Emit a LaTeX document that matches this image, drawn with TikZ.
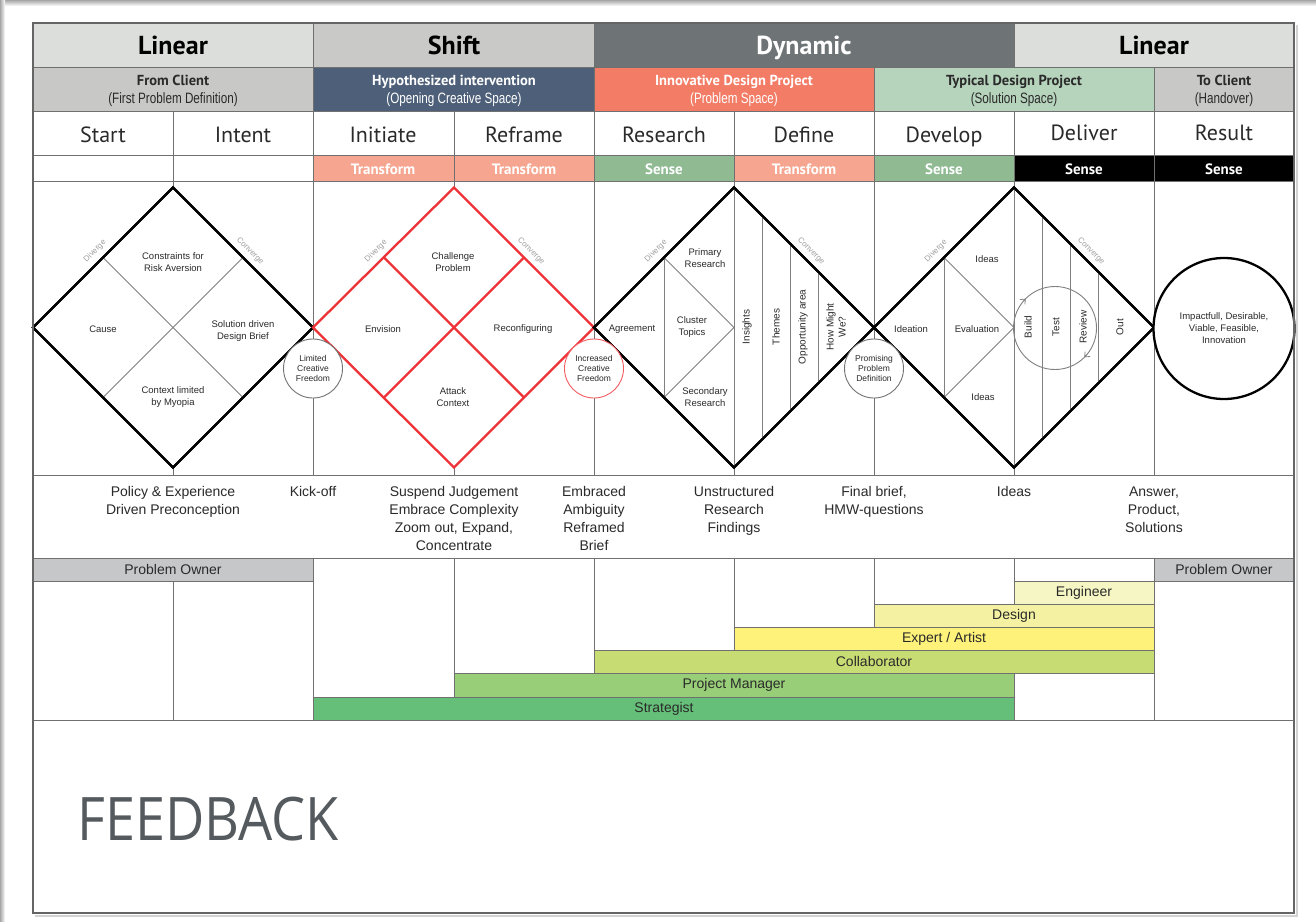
\documentclass[tikz,border=0pt]{standalone}
\usepackage{fontspec}
\setmainfont{Liberation Sans}
\newfontfamily\myr{PT Sans}
\newfontfamily\narrowf[FakeStretch=0.78]{Liberation Sans}
\newfontfamily\feedf[FakeStretch=0.9]{Open Sans}
\usetikzlibrary{arrows.meta}
\definecolor{linL}{HTML}{DCDEDC}
\definecolor{shiftC}{HTML}{C9CAC7}
\definecolor{dynC}{HTML}{6E7375}
\definecolor{clientC}{HTML}{C8C9C7}
\definecolor{hypC}{HTML}{4E6079}
\definecolor{innC}{HTML}{F37C66}
\definecolor{typC}{HTML}{B6D3BC}
\definecolor{transC}{HTML}{F6A690}
\definecolor{senseC}{HTML}{8FBA92}
\definecolor{lineC}{HTML}{707070}
\definecolor{redC}{HTML}{EE3338}
\definecolor{engC}{HTML}{F6F6C4}
\definecolor{desC}{HTML}{F4F2A2}
\definecolor{expC}{HTML}{FEF27A}
\definecolor{colC}{HTML}{C8DC74}
\definecolor{pmC}{HTML}{98CE78}
\definecolor{strC}{HTML}{66BF78}
\definecolor{poC}{HTML}{C6C7C9}
\definecolor{feedC}{HTML}{555A5F}
\definecolor{txtC}{HTML}{2A2A2A}
\begin{document}
\begin{tikzpicture}[x=1pt,y=-1pt,
  thin/.style={draw=lineC, line width=0.8pt},
  hdr/.style={font=\myr\bfseries\fontsize{26}{30}\selectfont, inner sep=0, anchor=base},
  subA/.style={font=\myr\bfseries\fontsize{14.5}{17}\selectfont, inner sep=0, anchor=base},
  subB/.style={font=\narrowf\fontsize{15}{17}\selectfont, inner sep=0, anchor=base},
  stage/.style={font=\myr\fontsize{22}{26}\selectfont, inner sep=0, text=txtC, anchor=base},
  tag/.style={font=\myr\bfseries\fontsize{15}{18}\selectfont, text=white, inner sep=0, anchor=base},
  dlab/.style={font=\fontsize{9.5}{11.5}\selectfont, align=center, text=txtC, inner sep=0},
  vlab/.style={dlab, font=\fontsize{10}{12}\selectfont, rotate=90},
  divlab/.style={font=\fontsize{8}{9}\selectfont, text=gray!75, inner sep=0},
  outtxt/.style={font=\fontsize{14}{18}\selectfont, align=center, anchor=north, text=txtC, inner sep=0},
  roletxt/.style={font=\fontsize{14}{16}\selectfont, text=txtC, inner sep=0},
  smallcirc/.style={circle, draw=gray!90!black, line width=0.9pt, fill=white, minimum size=59pt, inner sep=0, align=center, font=\fontsize{8.5}{10}\selectfont, text=txtC},
  diam/.style={line width=2.3pt, draw=black, fill=white, line join=miter},
  innerg/.style={draw=gray, line width=0.9pt},
  bar/.style={draw=lineC, line width=0.8pt}
]
\useasboundingbox (0,0) rectangle (1316,921);
\fill[white] (0,0) rectangle (1316,921);
% page shadows
\shade[top color=gray!70, bottom color=white] (0,0) rectangle (1316,6);
\shade[left color=gray!70, right color=white] (0,0) rectangle (5,921);
% frame shadow
\draw[gray!35, line width=2pt] (1296.5,25) -- (1296.5,915.5) -- (35,915.5);

% ---------- Row 1 ----------
\fill[linL] (33,23) rectangle (313,67);
\fill[shiftC] (313,23) rectangle (594,67);
\fill[dynC] (594,23) rectangle (1014,67);
\fill[linL] (1014,23) rectangle (1294,67);
\node[hdr] (h1) at (173,54) {Linear};
\node[hdr] (h2) at (454,54) {Shift};
\node[hdr, text=white] (h3) at (804,54) {Dynamic};
\node[hdr] (h4) at (1154,54) {Linear};

% ---------- Row 2 ----------
\fill[clientC] (33,67) rectangle (313,111);
\fill[hypC] (313,67) rectangle (594,111);
\fill[innC] (594,67) rectangle (874,111);
\fill[typC] (874,67) rectangle (1154,111);
\fill[clientC] (1154,67) rectangle (1294,111);
\node[subA, text=txtC] (s1a) at (173,85) {From Client};
\node[subB, text=txtC] (s1b) at (173,103) {(First Problem Definition)};
\node[subA, text=white] (s2a) at (454,85) {Hypothesized intervention};
\node[subB, text=white] (s2b) at (454,103) {(Opening Creative Space)};
\node[subA, text=white] (s3a) at (734,85) {Innovative Design Project};
\node[subB, text=white] (s3b) at (734,103) {(Problem Space)};
\node[subA, text=txtC] (s4a) at (1014,85) {Typical Design Project};
\node[subB, text=txtC] (s4b) at (1014,103) {(Solution Space)};
\node[subA, text=txtC] (s5a) at (1224,85) {To Client};
\node[subB, text=txtC] (s5b) at (1224,103) {(Handover)};

% ---------- Row 3 ----------
\node[stage] (st1) at (103,142) {Start};
\node[stage] (st2) at (243,142) {Intent};
\node[stage] (st3) at (383,142) {Initiate};
\node[stage] (st4) at (524,142) {Reframe};
\node[stage] (st5) at (664,142) {Research};
\node[stage] (st6) at (804,142) {Define};
\node[stage] (st7) at (944,142) {Develop};
\node[stage] (st8) at (1084,140) {Deliver};
\node[stage] (st9) at (1224,140) {Result};

% ---------- Row 4 ----------
\fill[transC] (313,155) rectangle (594,181);
\fill[senseC] (594,155) rectangle (734,181);
\fill[transC] (734,155) rectangle (874,181);
\fill[senseC] (874,155) rectangle (1014,181);
\fill[black] (1014,155) rectangle (1294,181);
\node[tag] (t3) at (383,174) {Transform};
\node[tag] (t4) at (524,174) {Transform};
\node[tag] (t5) at (664,174) {Sense};
\node[tag] (t6) at (804,174) {Transform};
\node[tag] (t7) at (944,174) {Sense};
\node[tag] (t8) at (1084,174) {Sense};
\node[tag] (t9) at (1224,174) {Sense};

% ---------- grid lines ----------
\foreach \yy in {67,111,155,181,475,558,720} \draw[thin] (33,\yy) -- (1294,\yy);
\foreach \xx in {313,594,1014} \draw[thin] (\xx,23) -- (\xx,67);
\foreach \xx in {313,594,874,1154} \draw[thin] (\xx,67) -- (\xx,111);
\foreach \xx in {173,313,454,594,734,874,1014,1154} \draw[thin] (\xx,111) -- (\xx,475);

% ---------- Row 5: diamonds ----------
% diamond 1
\draw[diam] (173,187.5) -- (313,327.5) -- (173,467.5) -- (33,327.5) -- cycle;
\draw[innerg] (103,257.5) -- (243,397.5);
\draw[innerg] (243,257.5) -- (103,397.5);
\draw[diam, fill=none] (173,187.5) -- (313,327.5) -- (173,467.5) -- (33,327.5) -- cycle;
\node[dlab] (d1a) at (173,262) {Constraints for\\Risk Aversion};
\node[dlab] (d1b) at (103,329) {Cause};
\node[dlab] (d1c) at (243,331) {Solution driven\\Design Brief};
\node[dlab] (d1d) at (173,397) {Context limited\\by Myopia};
% diamond 2 (red)
\draw[diam, draw=redC] (454,187.5) -- (594,327.5) -- (454,467.5) -- (313,327.5) -- cycle;
\draw[draw=redC, line width=2.3pt] (384,257.5) -- (524,397.5);
\draw[draw=redC, line width=2.3pt] (524,257.5) -- (384,397.5);
\node[dlab] (d2a) at (453,262) {Challenge\\Problem};
\node[dlab] (d2b) at (383,329) {Envision};
\node[dlab] (d2c) at (523,329) {Reconfiguring};
\node[dlab] (d2d) at (453,397) {Attack\\Context};
% diamond 3
\draw[diam] (734,187.5) -- (874,327.5) -- (734,467.5) -- (594,327.5) -- cycle;
\draw[innerg] (664,257.5) -- (664,397.5);
\draw[innerg] (664,257.5) -- (734,327.5) -- (664,397.5);
\draw[innerg] (734,188.5) -- (734,466.5);
\foreach \k in {1,2,3} \draw[innerg] ({734+28*\k},{189+28*\k}) -- ({734+28*\k},{466-28*\k});
\draw[diam, fill=none] (734,187.5) -- (874,327.5) -- (734,467.5) -- (594,327.5) -- cycle;
\node[dlab] (d3a) at (705,258) {Primary\\Research};
\node[dlab] (d3b) at (632,329) {Agreement};
\node[dlab] (d3c) at (692,327) {Cluster\\Topics};
\node[dlab] (d3d) at (705,397) {Secondary\\Research};
\node[vlab] (d3e) at (747,327) {Insights};
\node[vlab] (d3f) at (776,327) {Themes};
\node[vlab] (d3g) at (803,327) {Opportunity area};
\node[vlab] (d3h) at (836,327) {How Might\\We?};
% diamond 4
\draw[diam] (1014,187.5) -- (1154,327.5) -- (1014,467.5) -- (874,327.5) -- cycle;
\draw[innerg] (944,257.5) -- (944,397.5);
\draw[innerg] (944,257.5) -- (1014,327.5) -- (944,397.5);
\draw[innerg] (1014,188.5) -- (1014,466.5);
\foreach \k in {1,2,3} \draw[innerg] ({1014+28*\k},{189+28*\k}) -- ({1014+28*\k},{466-28*\k});
\draw[gray, line width=0.9pt] (1055,328) circle (41.5);
\draw[gray, line width=0.8pt, -{Straight Barb[length=4pt,width=7pt]}] (1023.2,301.2) -- (1025.7,298.7);
\draw[gray, line width=0.8pt, -{Straight Barb[length=4pt,width=7pt]}] (1086.8,354.8) -- (1084.3,357.3);
\draw[diam, fill=none] (1014,187.5) -- (1154,327.5) -- (1014,467.5) -- (874,327.5) -- cycle;
\node[dlab] (d4a) at (987,259) {Ideas};
\node[dlab] (d4b) at (911,329) {Ideation};
\node[dlab] (d4c) at (977,329) {Evaluation};
\node[dlab] (d4d) at (983,397) {Ideas};
\node[vlab] (d4e) at (1028,327) {Build};
\node[vlab] (d4f) at (1056,327) {Test};
\node[vlab] (d4g) at (1083,327) {Review};
\node[vlab] (d4h) at (1120,327) {Out};
% diverge / converge labels
\foreach \cx/\nm in {173/a,454/b,734/c,1014/d} {
  \node[divlab, rotate=45] (dv\nm) at ({\cx-78},251) {Diverge};
  \node[divlab, rotate=-45] (cv\nm) at ({\cx+77},251) {Converge};
}
% small circles
\node[smallcirc] (c1) at (313,368.5) {Limited\\Creative\\Freedom};
\node[smallcirc, draw=redC!80] (c2) at (594,368.5) {Increased\\Creative\\Freedom};
\node[smallcirc] (c3) at (874,368.5) {Promising\\Problem\\Definition};
% result circle
\node[circle, draw=black, line width=2.3pt, fill=white, minimum size=141pt, inner sep=0, align=center, font=\fontsize{9.5}{12}\selectfont, text=txtC] (res) at (1224,328.5) {Impactfull, Desirable,\\Viable, Feasible,\\Innovation};

% ---------- Row 6: outputs ----------
\node[outtxt] (o1) at (173,486.5) {Policy \& Experience\\Driven Preconception};
\node[outtxt] (o2) at (313,486.5) {Kick-off};
\node[outtxt] (o3) at (454,486.5) {Suspend Judgement\\Embrace Complexity\\Zoom out, Expand,\\Concentrate};
\node[outtxt] (o4) at (594,486.5) {Embraced\\Ambiguity\\Reframed\\Brief};
\node[outtxt] (o5) at (734,486.5) {Unstructured\\Research\\Findings};
\node[outtxt] (o6) at (874,486.5) {Final brief,\\HMW-questions};
\node[outtxt] (o7) at (1014,486.5) {Ideas};
\node[outtxt] (o8) at (1154,486.5) {Answer,\\Product,\\Solutions};

% ---------- Row 7: roles ----------
\draw[thin] (173,581) -- (173,720);
\draw[thin] (313,558) -- (313,720);
\draw[thin] (454,558) -- (454,673);
\draw[thin] (594,558) -- (594,650);
\draw[thin] (734,558) -- (734,627);
\draw[thin] (874,558) -- (874,604);
\draw[thin] (1014,558) -- (1014,581);
\draw[thin] (1014,673) -- (1014,720);
\draw[thin] (1154,558) -- (1154,720);
\draw[bar, fill=poC] (33,558) rectangle (313,581);
\draw[bar, fill=poC] (1154,558) rectangle (1294,581);
\draw[bar, fill=engC] (1014,581) rectangle (1154,604);
\draw[bar, fill=desC] (874,604) rectangle (1154,627);
\draw[bar, fill=expC] (734,627) rectangle (1154,650);
\draw[bar, fill=colC] (594,650) rectangle (1154,673);
\draw[bar, fill=pmC] (454,673) rectangle (1014,697);
\draw[bar, fill=strC] (313,697) rectangle (1014,720);
\node[roletxt] (r1) at (173,569.5) {Problem Owner};
\node[roletxt] (r2) at (1224,569.5) {Problem Owner};
\node[roletxt] (r3) at (1084,592.5) {Engineer};
\node[roletxt] (r4) at (1014,615.5) {Design};
\node[roletxt] (r5) at (944,638.5) {Expert / Artist};
\node[roletxt] (r6) at (874,661.5) {Collaborator};
\node[roletxt] (r7) at (734,685) {Project Manager};
\node[roletxt] (r8) at (664,708.5) {Strategist};

% ---------- Row 8: feedback ----------
\node[anchor=base west, inner sep=0, font=\feedf\fontsize{60}{64}\selectfont, text=feedC] (fb) at (77,840) {FEEDBACK};

% outer frame
\draw[draw=lineC!90!black, line width=1.6pt] (33,23) rectangle (1294,913);
\end{tikzpicture}
\end{document}
